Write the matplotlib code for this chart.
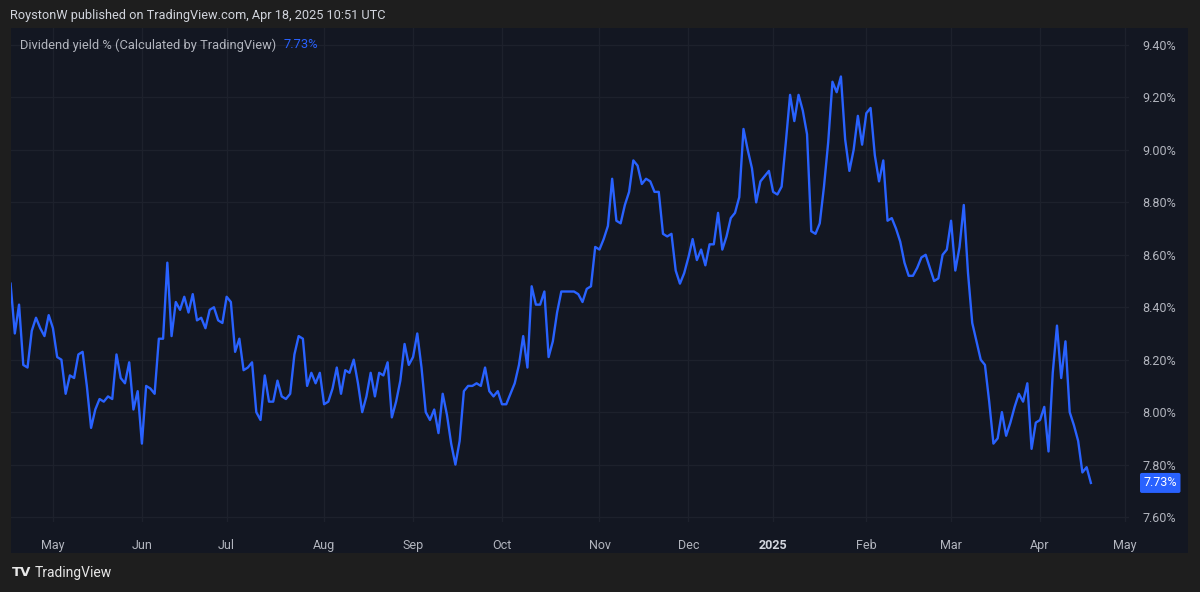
import matplotlib
matplotlib.use('Agg')
import matplotlib.pyplot as plt
import matplotlib.patches as mpatches
import numpy as np
import pandas as pd

# Dividend yield % per trading day (one list per month)
yield_apr24 = [8.49, 8.30, 8.41, 8.18, 8.17, 8.31, 8.36, 8.32, 8.29, 8.37]
yield_may24 = [8.32, 8.21, 8.20, 8.07, 8.14, 8.13, 8.22, 8.23, 8.10, 7.94, 8.01,
               8.05, 8.04, 8.06, 8.05, 8.22, 8.13, 8.11, 8.19, 8.01, 8.08]
yield_jun24 = [7.88, 8.10, 8.09, 8.07, 8.28, 8.28, 8.57, 8.29, 8.42, 8.39,
               8.44, 8.38, 8.45, 8.35, 8.36, 8.32, 8.39, 8.40, 8.35, 8.34]
yield_jul24 = [8.44, 8.42, 8.23, 8.28, 8.16, 8.17, 8.19, 8.00, 7.97, 8.14, 8.04, 8.04,
               8.12, 8.06, 8.05, 8.07, 8.22, 8.29, 8.28, 8.10, 8.15, 8.11, 8.15]
yield_aug24 = [8.03, 8.04, 8.09, 8.17, 8.07, 8.16, 8.15, 8.20, 8.11, 8.00, 8.06,
               8.15, 8.06, 8.15, 8.14, 8.19, 7.98, 8.04, 8.12, 8.26, 8.18]
yield_sep24 = [8.21, 8.30, 8.17, 8.00, 7.97, 8.01, 7.92, 8.07, 7.99, 7.88, 7.80,
               7.89, 8.08, 8.10, 8.10, 8.11, 8.10, 8.17, 8.08, 8.06, 8.08]
yield_oct24 = [8.03, 8.03, 8.07, 8.11, 8.18, 8.29, 8.17, 8.48, 8.41, 8.41, 8.46, 8.21,
               8.27, 8.38, 8.46, 8.46, 8.46, 8.46, 8.45, 8.42, 8.47, 8.48, 8.63]
yield_nov24 = [8.62, 8.66, 8.71, 8.89, 8.73, 8.72, 8.79, 8.84, 8.96, 8.94, 8.87,
               8.89, 8.88, 8.84, 8.84, 8.68, 8.67, 8.68, 8.54, 8.49, 8.53]
yield_dec24 = [8.59, 8.66, 8.58, 8.62, 8.56, 8.64, 8.64, 8.76, 8.62, 8.67,
               8.74, 8.76, 8.82, 9.08, 9.00, 8.93, 8.80, 8.88, 8.90, 8.92]
yield_jan25 = [8.84, 8.83, 8.86, 9.03, 9.21, 9.11, 9.21, 9.15, 9.06, 8.69, 8.68,
               8.72, 8.86, 9.03, 9.26, 9.22, 9.28, 9.04, 8.92, 9.00, 9.13, 9.02]
yield_feb25 = [9.14, 9.16, 8.98, 8.88, 8.96, 8.73, 8.74, 8.70, 8.65, 8.57,
               8.52, 8.52, 8.55, 8.59, 8.60, 8.55, 8.50, 8.51, 8.60, 8.62]
yield_mar25 = [8.73, 8.54, 8.63, 8.79, 8.53, 8.34, 8.27, 8.20, 8.18, 8.04, 7.88,
               7.90, 8.00, 7.91, 7.96, 8.02, 8.07, 8.04, 8.11, 7.86, 7.96]
yield_apr25 = [7.97, 8.02, 7.85, 8.15, 8.33, 8.13, 8.27, 8.00, 7.95, 7.89, 7.77, 7.79, 7.73]

last_value = 7.73
first_day = '2024-04-17'
uk_holidays = ['2024-05-06', '2024-05-27', '2024-08-26', '2024-12-25', '2024-12-26',
               '2025-01-01', '2025-04-18', '2025-04-21']
month_starts = pd.date_range('2024-05-01', '2025-05-01', freq='MS')
month_labels = ['May', 'Jun', 'Jul', 'Aug', 'Sep', 'Oct', 'Nov', 'Dec', '2025',
                'Feb', 'Mar', 'Apr', 'May']
y_ticks = [7.6, 7.8, 8.0, 8.2, 8.4, 8.6, 8.8, 9.0, 9.2, 9.4]

values = np.array(yield_apr24 + yield_may24 + yield_jun24 + yield_jul24 + yield_aug24
                  + yield_sep24 + yield_oct24 + yield_nov24 + yield_dec24 + yield_jan25
                  + yield_feb25 + yield_mar25 + yield_apr25)

# trading-day axis like TradingView (weekends / holidays skipped)
days = pd.bdate_range(first_day, '2025-06-30', freq='C', holidays=uk_holidays)
bar = np.arange(len(values))
month_pos = [int(np.searchsorted(days, m)) for m in month_starts]

BG = '#1e1e1e'
PANE = '#131722'
GRID = '#1d212c'
TXT = '#b2b5be'
BLUE = '#2962ff'
W, H = 1200, 592

plt.rcParams['font.family'] = ['Roboto', 'DejaVu Sans']

fig = plt.figure(figsize=(12, 5.92), dpi=100, facecolor=BG)
fig.add_artist(mpatches.Rectangle((11 / W, 1 - 553 / H), (1188 - 11) / W, (553 - 28) / H,
                                  transform=fig.transFigure, fc=PANE, ec='none', zorder=0))

ax = fig.add_axes([11 / W, 1 - 522 / H, (1129 - 11) / W, (522 - 28) / H])
ax.set_facecolor(PANE)
ax.plot(bar, values, color=BLUE, lw=1.7, solid_joinstyle='round', zorder=3)

ax.set_xlim(0.1, 264.0)
ax.set_ylim(7.581, 9.465)
for s in ax.spines.values():
    s.set_visible(False)

ax.set_xticks(month_pos)
ax.set_xticklabels(month_labels)
ax.set_yticks(y_ticks)
ax.set_yticklabels(['%.2f%%' % t for t in y_ticks])
ax.yaxis.tick_right()
ax.tick_params(axis='both', length=0, colors=TXT, labelsize=9)
ax.tick_params(axis='x', pad=12)
ax.tick_params(axis='y', pad=34)
for lab in ax.get_yticklabels():
    lab.set_horizontalalignment('right')
for lab in ax.get_xticklabels():
    if lab.get_text() == '2025':
        lab.set_fontweight('bold')
        lab.set_color('#d1d4dc')
ax.grid(True, color=GRID, lw=1.0)
ax.set_axisbelow(True)

# last-value tag on the price scale
ax.annotate('%.2f%%' % last_value, xy=(1.0, last_value), xycoords=('axes fraction', 'data'),
            xytext=(22.5, 0), textcoords='offset points', ha='center', va='center',
            color='white', fontsize=9, annotation_clip=False,
            bbox=dict(boxstyle='round,pad=0.28,rounding_size=0.15', fc=BLUE, ec='none'))

# legend line inside the pane
leg = ax.text(9 / 1118, 1 - 17 / 494, 'Dividend yield % (Calculated by TradingView)',
              transform=ax.transAxes, color=TXT, fontsize=9.3, va='center', ha='left')
ax.annotate('%.2f%%' % last_value, xy=(1, 0.5), xycoords=leg, xytext=(5, 0),
            textcoords='offset points', color=BLUE, fontsize=9.3, va='center', ha='left')

fig.text(10 / W, 1 - 16 / H, 'RoystonW published on TradingView.com, Apr 18, 2025 10:51 UTC',
         color='#d1d4dc', fontsize=9.2, va='center', ha='left')
fig.text(12 / W, 1 - 573 / H, 'TV', color='#e8e8e8', fontsize=9.5, fontweight='heavy',
         va='center', ha='left', family='DejaVu Sans')
fig.text(35 / W, 1 - 573 / H, 'TradingView', color='#e8e8e8', fontsize=10,
         va='center', ha='left')

fig.savefig('out.png', dpi=100, facecolor=BG)
